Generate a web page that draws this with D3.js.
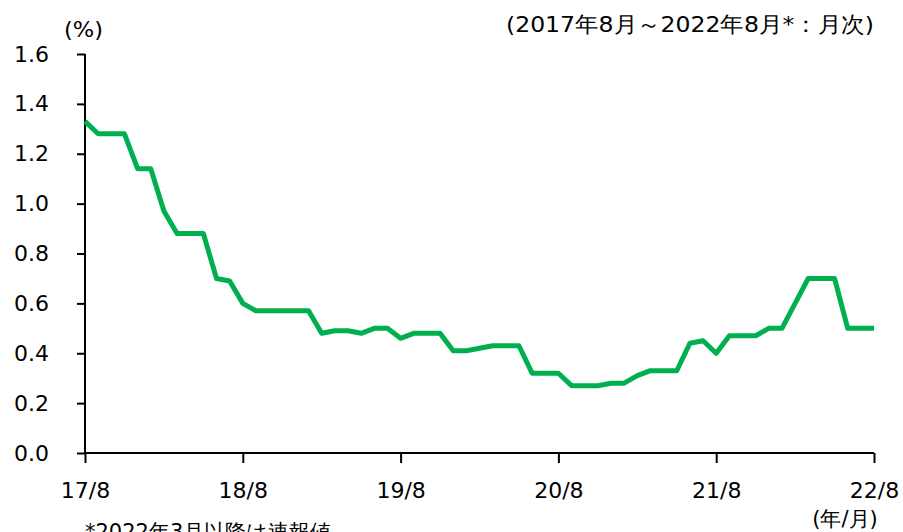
<!DOCTYPE html>
<html>
<head>
<meta charset="utf-8">
<script src="https://cdn.jsdelivr.net/npm/d3@7"></script>
<style>
  body { margin: 0; background: #fff; }
  text { font-family: "DejaVu Sans", Verdana, sans-serif; fill: #000; }
</style>
</head>
<body>
<div id="chart-container"></div>
<script>
// monthly values, 2017/8 .. 2022/8
const months = d3.range(0, 61);
const values = [
  1.33, 1.28, 1.28, 1.28, 1.14, 1.14, 0.97, 0.88, 0.88, 0.88, 0.70, 0.69,
  0.60, 0.57, 0.57, 0.57, 0.57, 0.57, 0.48, 0.49, 0.49, 0.48, 0.50, 0.50,
  0.46, 0.48, 0.48, 0.48, 0.41, 0.41, 0.42, 0.43, 0.43, 0.43, 0.32, 0.32,
  0.32, 0.27, 0.27, 0.27, 0.28, 0.28, 0.31, 0.33, 0.33, 0.33, 0.44, 0.45,
  0.40, 0.47, 0.47, 0.47, 0.50, 0.50, 0.60, 0.70, 0.70, 0.70, 0.50, 0.50,
  0.50
];
const xTickMonths = [0, 12, 24, 36, 48, 60];
const xTickLabels = ["17/8", "18/8", "19/8", "20/8", "21/8", "22/8"];
const yTicks = [0, 0.2, 0.4, 0.6, 0.8, 1.0, 1.2, 1.4, 1.6];

const W = 903, H = 532;
const margin = {top: 54, right: 29, bottom: 79, left: 85};
const width = W - margin.left - margin.right;
const height = H - margin.top - margin.bottom;

const x = d3.scaleLinear().domain([0, 60]).range([0, width]);
const y = d3.scaleLinear().domain([0, 1.6]).range([height, 0]);

const root = d3.select("#chart-container")
  .append("svg")
  .attr("width", W)
  .attr("height", H);

const svg = root.append("g")
  .attr("transform", `translate(${margin.left},${margin.top})`);

// y axis
const yAxis = svg.append("g")
  .call(d3.axisLeft(y).tickValues(yTicks).tickSize(8).tickPadding(28)
    .tickFormat(d3.format(".1f")));
// x axis
const xAxis = svg.append("g")
  .attr("transform", `translate(0,${height})`)
  .call(d3.axisBottom(x).tickValues(xTickMonths).tickSize(10).tickPadding(19)
    .tickFormat((d, i) => xTickLabels[i]));

[yAxis, xAxis].forEach(a => {
  a.select(".domain").attr("stroke", "#000").attr("stroke-width", 2);
  a.selectAll(".tick line").attr("stroke", "#000").attr("stroke-width", 2);
  a.selectAll(".tick text").attr("font-size", 22)
    .style("font-family", "'DejaVu Sans', Verdana, sans-serif");
});
xAxis.select(".domain").attr("d", `M0,0H${width}`);
yAxis.select(".domain").attr("d", `M0,${height}V0`);

// line
const line = d3.line()
  .x((d, i) => x(months[i]))
  .y(d => y(d));

svg.append("path")
  .datum(values)
  .attr("fill", "none")
  .attr("stroke", "#00b050")
  .attr("stroke-width", 5)
  .attr("stroke-linejoin", "round")
  .attr("d", line);

// annotations
root.append("text").attr("x", 64).attr("y", 37)
  .attr("font-size", 21).attr("textLength", 39).attr("lengthAdjust", "spacingAndGlyphs")
  .text("(%)");
root.append("text").attr("x", 874).attr("y", 32).attr("text-anchor", "end")
  .attr("font-size", 22).attr("textLength", 368).attr("lengthAdjust", "spacingAndGlyphs")
  .text("(2017年8月～2022年8月*：月次)");
root.append("text").attr("x", 845).attr("y", 526).attr("text-anchor", "middle")
  .attr("font-size", 21).text("(年/月)");
root.append("text").attr("x", 85).attr("y", 539)
  .attr("font-size", 21).text("*2022年3月以降は速報値");
</script>
</body>
</html>
